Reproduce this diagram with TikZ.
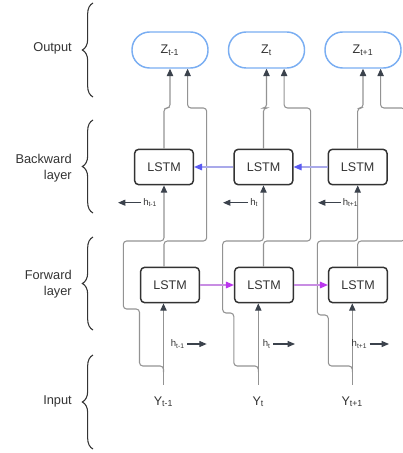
\documentclass[tikz,border=0pt]{standalone}
\usepackage{fontspec}
\setmainfont{Liberation Sans}
\usetikzlibrary{arrows.meta,decorations.pathreplacing,calc}

\definecolor{ink}{HTML}{333333}
\definecolor{wire}{HTML}{939393}
\definecolor{tipc}{HTML}{3B424C}
\definecolor{zblue}{HTML}{7AAEF2}
\definecolor{bwline}{HTML}{A9A9EA}
\definecolor{bwtip}{HTML}{5B5BF2}
\definecolor{fwline}{HTML}{C88DE3}
\definecolor{fwtip}{HTML}{BB36EE}

\begin{document}
\begin{tikzpicture}[x=0.75pt,y=-0.75pt,
  every node/.style={text=ink},
  lstm/.style={draw=ink, fill=white, line width=1.1pt, rounded corners=3pt,
    minimum width=44pt, minimum height=26.5pt, inner sep=0pt,
    font=\fontsize{9.4}{11}\selectfont},
  zout/.style={draw=zblue, fill=white, line width=1.1pt, rounded corners=13.2pt,
    minimum width=57pt, minimum height=27pt, inner sep=0pt,
    font=\fontsize{9.4}{11}\selectfont},
  seq/.style={font=\fontsize{9.4}{11}\selectfont, inner xsep=0pt, inner ysep=8.5pt},
  side/.style={font=\fontsize{9.6}{12}\selectfont, align=right, anchor=east, inner sep=0pt},
  hlab/.style={font=\fontsize{7.2}{8}\selectfont, inner sep=1.5pt},
  wirel/.style={draw=wire, line width=0.8pt, rounded corners=2.5pt},
  tip/.style={-{Triangle[length=5.5pt,width=4.8pt,color=tipc]}},
  harr/.style={draw=tipc, line width=0.8pt, -{Triangle[length=5.5pt,width=4.5pt]}},
  bw/.style={draw=bwline, line width=0.8pt, -{Triangle[length=6pt,width=5pt,color=bwtip]}},
  fw/.style={draw=fwline, line width=0.8pt, -{Triangle[length=6pt,width=5pt,color=fwtip]}},
  layerbrace/.style={draw=ink, line width=0.8pt, decorate, decoration={brace, amplitude=8pt}}
]
\useasboundingbox (0,0) rectangle (403,453);
\clip (0,0) rectangle (403,453);

% layer labels and braces
\node[side] (lout) at (72,48) {Output};
\node[side] (lbw) at (72,168) {Backward\\layer};
\node[side] (lfw) at (72,284) {Forward\\layer};
\node[side] (lin) at (72,401.5) {Input};
\draw[layerbrace] (93,97) -- (93,3);
\draw[layerbrace] (93,213) -- (93,120);
\draw[layerbrace] (93,330) -- (93,237);
\draw[layerbrace] (93,449) -- (93,355);

% routing levels
\coordinate (lvt) at (0,108);
\coordinate (lvm) at (0,241);
\coordinate (lvb) at (0,366);

% output nodes
\node[zout] (Z1) at (170,50) {Z\textsubscript{t-1}};
\node[zout] (Z2) at (266.5,50) {Z\textsubscript{t}};
\node[zout] (Z3) at (363,50) {Z\textsubscript{t+1}};

% backward layer
\node[lstm] (B1) at (164,167) {LSTM};
\node[lstm] (B2) at (263.5,167) {LSTM};
\node[lstm] (B3) at (357.7,167) {LSTM};

% forward layer
\node[lstm] (F1) at (170,285) {LSTM};
\node[lstm] (F2) at (264,285) {LSTM};
\node[lstm] (F3) at (358,285) {LSTM};

% inputs
\node[seq, anchor=base] (Y1) at (163.5,405) {Y\textsubscript{t-1}};
\node[seq, anchor=base] (Y2) at (258.3,405) {Y\textsubscript{t}};
\node[seq, anchor=base] (Y3) at (352.3,405) {Y\textsubscript{t+1}};

% per-column wiring
\foreach \k/\r/\l/\m/\jl in {1/206.7/123.3/139.5/309, 2/310.7/222.7/233.8/313, 3/405/317.3/328.3/315}{
  \coordinate (Z\k r) at ([xshift=13.2pt]Z\k.south);
  % backward output to Z
  \draw[wirel,tip] (B\k.north) |- (Z\k.south |- lvt) -- (Z\k.south);
  % forward output up to the shared level, then on to Z
  \draw[wirel,tip] (F\k.north -| B\k.north) |- (\r,241) |- (Z\k r |- lvt) -- (Z\k r);
  % input to forward cell
  \draw[wirel,tip] (Y\k.north) -- (F\k.south -| Y\k.north);
  % input round the forward cell into the backward cell
  \draw[wirel,tip] ($(Y\k.north |- lvb)+(0,6)$) |- (\m,366) |- (\l,\jl) |- (B\k.south |- lvm) -- (B\k.south);
}

% recurrent connections
\draw[bw] (B2.west) -- (B1.east);
\draw[bw] (B3.west) -- (B2.east);
\draw[fw] (F1.east) -- (F2.west);
\draw[fw] (F2.east) -- (F3.west);

% hidden states, backward direction
\coordinate (hb1e) at (118,202.7);
\coordinate (hb2e) at (223,202.7);
\coordinate (hb3e) at (318,202.7);
\node[hlab, anchor=base west] (hb1) at (141,205.3) {h\textsubscript{t-1}};
\node[hlab, anchor=base west] (hb2) at (248,205.3) {h\textsubscript{t}};
\node[hlab, anchor=base west] (hb3) at (340.5,205.3) {h\textsubscript{t+1}};
\draw[harr] (hb1e -| hb1.west) -- (hb1e);
\draw[harr] (hb2e -| hb2.west) -- (hb2e);
\draw[harr] (hb3e -| hb3.west) -- (hb3e);

% hidden states, forward direction
\coordinate (hf1e) at (206.7,344);
\coordinate (hf2e) at (295,344);
\coordinate (hf3e) at (389,344);
\node[hlab, anchor=base east] (hf1) at (187,346.7) {h\textsubscript{t-1}};
\node[hlab, anchor=base east] (hf2) at (273,346.7) {h\textsubscript{t}};
\node[hlab, anchor=base east] (hf3) at (369.5,346.7) {h\textsubscript{t+1}};
\draw[harr] (hf1e -| hf1.east) -- (hf1e);
\draw[harr] (hf2e -| hf2.east) -- (hf2e);
\draw[harr] (hf3e -| hf3.east) -- (hf3e);
\end{tikzpicture}
\end{document}
